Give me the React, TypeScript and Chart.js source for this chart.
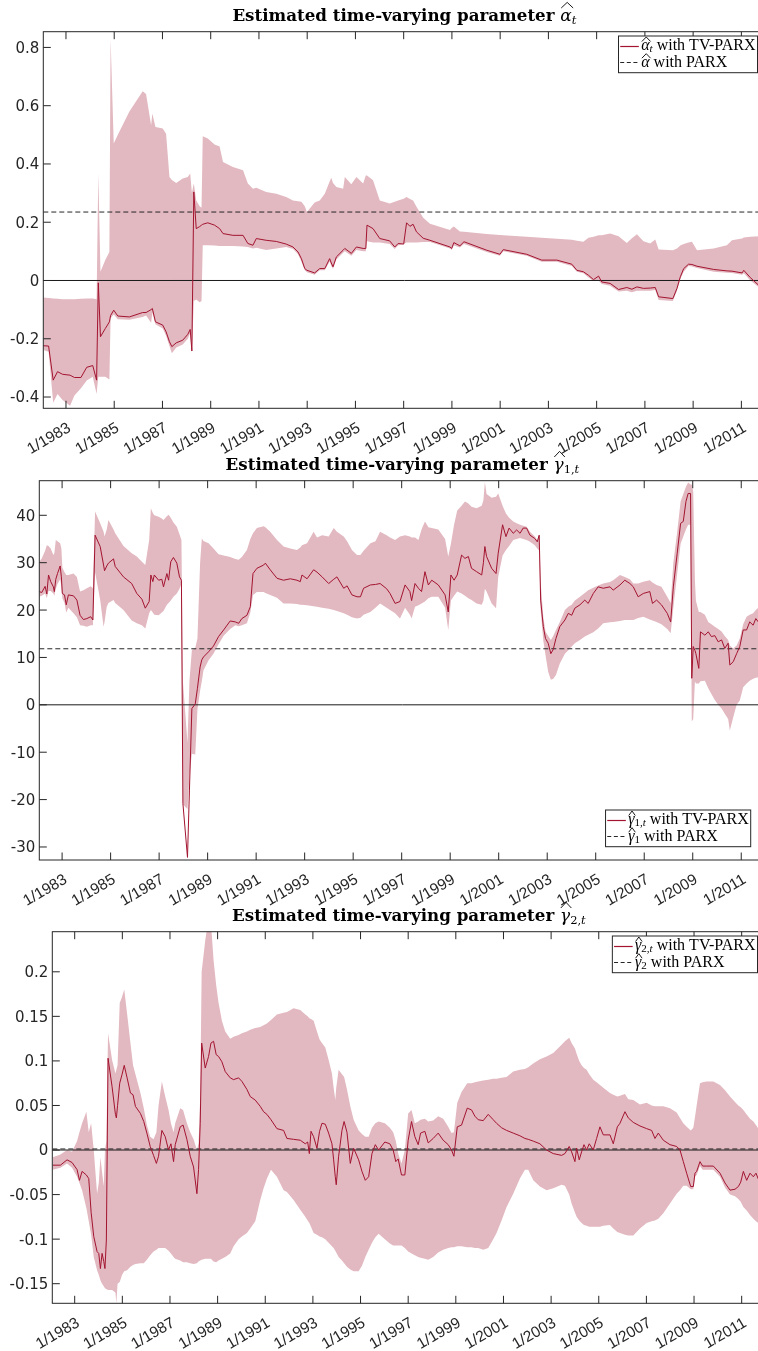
import React, { useEffect, useRef } from 'react';
import { Chart, registerables } from 'chart.js';

Chart.register(...registerables);

// ---------------- shared axis values ----------------
const X_MIN = 1982.06;
const X_MAX = 2012.0;
const X_TICKS = [1983, 1985, 1987, 1989, 1991, 1993, 1995, 1997, 1999, 2001, 2003, 2005, 2007, 2009, 2011];
const X_TICK_LABELS = ['1/1983', '1/1985', '1/1987', '1/1989', '1/1991', '1/1993', '1/1995', '1/1997', '1/1999', '1/2001', '1/2003', '1/2005', '1/2007', '1/2009', '1/2011'];

// ---------------- panel 1 : alpha_t ----------------
const P1_T = [
  1982.06, 1982.28, 1982.47, 1982.65, 1982.86, 1983.17, 1983.35, 1983.62, 1983.86, 1984.11,
  1984.27, 1984.34, 1984.43, 1984.63, 1984.80, 1984.85, 1984.98, 1985.15, 1985.63, 1986.18,
  1986.32, 1986.53, 1986.58, 1986.71, 1987.01, 1987.15, 1987.29, 1987.39, 1987.57, 1987.84,
  1988.05, 1988.15, 1988.22, 1988.30, 1988.40, 1988.54, 1988.62, 1988.67, 1988.88, 1989.16,
  1989.37, 1989.51, 1989.92, 1990.34, 1990.54, 1990.75, 1990.89, 1991.30, 1991.72, 1992.13,
  1992.41, 1992.62, 1992.76, 1992.90, 1992.99, 1993.31, 1993.52, 1993.73, 1993.93, 1994.00,
  1994.07, 1994.21, 1994.49, 1994.56, 1994.83, 1995.04, 1995.32, 1995.43, 1995.48, 1995.73,
  1996.01, 1996.42, 1996.63, 1996.77, 1997.00, 1997.12, 1997.26, 1997.39, 1997.53, 1997.81,
  1998.09, 1998.92, 1998.99, 1999.08, 1999.33, 1999.50, 2000.44, 2000.99, 2001.13, 2002.10,
  2002.72, 2003.35, 2003.97, 2004.18, 2004.45, 2004.66, 2004.87, 2005.08, 2005.21, 2005.56,
  2005.91, 2006.25, 2006.46, 2006.67, 2006.94, 2007.22, 2007.43, 2007.57, 2008.16, 2008.33,
  2008.47, 2008.61, 2008.81, 2008.95, 2009.16, 2009.85, 2010.40, 2010.61, 2011.03, 2011.10,
  2011.37, 2011.75,
];
const P1_LINE = [
  -0.224, -0.225, -0.342, -0.313, -0.322, -0.325, -0.333, -0.333, -0.298, -0.292,
  -0.342, -0.008, -0.193, -0.165, -0.142, -0.12, -0.102, -0.122, -0.125, -0.11,
  -0.11, -0.1, -0.096, -0.142, -0.153, -0.176, -0.21, -0.227, -0.214, -0.205,
  -0.185, -0.168, -0.242, 0.304, 0.178, 0.185, 0.19, 0.193, 0.198, 0.19,
  0.178, 0.161, 0.155, 0.155, 0.127, 0.121, 0.144, 0.138, 0.134, 0.125,
  0.115, 0.098, 0.075, 0.041, 0.035, 0.026, 0.041, 0.041, 0.075, 0.06,
  0.047, 0.081, 0.104, 0.11, 0.093, 0.115, 0.11, 0.11, 0.19, 0.178,
  0.144, 0.136, 0.115, 0.127, 0.125, 0.198, 0.186, 0.193, 0.167, 0.145,
  0.138, 0.115, 0.11, 0.13, 0.119, 0.133, 0.104, 0.09, 0.106, 0.09,
  0.07, 0.07, 0.056, 0.035, 0.03, 0.018, 0.003, 0.015, -0.005, -0.01,
  -0.031, -0.024, -0.03, -0.022, -0.027, -0.026, -0.024, -0.056, -0.062, -0.027,
  0.013, 0.041, 0.056, 0.055, 0.049, 0.038, 0.033, 0.032, 0.026, 0.035,
  0.01, -0.019,
];
const P1_LO = [
  -0.239, -0.245, -0.42, -0.39, -0.41, -0.43, -0.395, -0.37, -0.343, -0.33,
  -0.39, -0.33, -0.33, -0.33, -0.34, -0.13, -0.117, -0.133, -0.135, -0.125,
  -0.12, -0.145, -0.11, -0.15, -0.165, -0.19, -0.225, -0.25, -0.23, -0.22,
  -0.2, -0.18, -0.25, -0.07, -0.065, -0.075, -0.07, 0.121, 0.121, 0.12,
  0.118, 0.118, 0.118, 0.117, 0.115, 0.11, 0.112, 0.105, 0.11, 0.115,
  0.108, 0.09, 0.065, 0.035, 0.028, 0.02, 0.035, 0.035, 0.065, 0.05,
  0.04, 0.072, 0.095, 0.1, 0.085, 0.105, 0.1, 0.1, 0.135, 0.13,
  0.13, 0.125, 0.108, 0.12, 0.125, 0.13, 0.13, 0.13, 0.13, 0.132,
  0.132, 0.11, 0.105, 0.12, 0.113, 0.125, 0.098, 0.085, 0.1, 0.085,
  0.064, 0.064, 0.05, 0.03, 0.025, 0.01, -0.002, 0.0, -0.012, -0.018,
  -0.038, -0.035, -0.04, -0.035, -0.035, -0.035, -0.033, -0.067, -0.07, -0.035,
  0.005, 0.03, 0.05, 0.048, 0.043, 0.03, 0.027, 0.026, 0.02, 0.025,
  0.0, -0.025,
];
const P1_HI = [
  -0.058, -0.06, -0.062, -0.063, -0.064, -0.064, -0.064, -0.063, -0.062, -0.062,
  -0.064, 0.367, 0.03, 0.07, 0.098, 0.83, 0.47, 0.5, 0.58, 0.65,
  0.64, 0.533, 0.573, 0.527, 0.522, 0.504, 0.355, 0.345, 0.335, 0.35,
  0.355, 0.367, 0.3, 0.333, 0.275, 0.255, 0.25, 0.495, 0.487, 0.467,
  0.46, 0.407, 0.39, 0.378, 0.333, 0.315, 0.318, 0.304, 0.298, 0.287,
  0.275, 0.272, 0.27, 0.255, 0.235, 0.268, 0.275, 0.298, 0.34, 0.353,
  0.335, 0.321, 0.315, 0.355, 0.33, 0.355, 0.333, 0.36, 0.36, 0.344,
  0.275, 0.264, 0.27, 0.275, 0.281, 0.287, 0.28, 0.275, 0.253, 0.215,
  0.195, 0.173, 0.18, 0.185, 0.168, 0.167, 0.16, 0.156, 0.155, 0.15,
  0.147, 0.143, 0.14, 0.136, 0.133, 0.147, 0.15, 0.155, 0.155, 0.161,
  0.152, 0.129, 0.145, 0.159, 0.135, 0.127, 0.141, 0.106, 0.104, 0.11,
  0.12, 0.125, 0.13, 0.133, 0.104, 0.11, 0.121, 0.138, 0.144, 0.148,
  0.15, 0.152,
];
const P1_PARX = 0.235;
const P1_Y_MIN = -0.4387;
const P1_Y_MAX = 0.854;
const P1_Y_TICKS = [-0.4, -0.2, 0, 0.2, 0.4, 0.6, 0.8];
const P1_Y_LABELS = ['-0.4', '-0.2', '0', '0.2', '0.4', '0.6', '0.8'];

// ---------------- panel 2 : gamma_1,t ----------------
const P2_T = [
  1982.06, 1982.16, 1982.30, 1982.37, 1982.44, 1982.53, 1982.64, 1982.68, 1982.74, 1982.81,
  1982.92, 1982.97, 1983.01, 1983.10, 1983.17, 1983.26, 1983.47, 1983.61, 1983.74, 1983.88,
  1984.02, 1984.18, 1984.27, 1984.36, 1984.57, 1984.71, 1984.75, 1984.84, 1984.91, 1985.12,
  1985.19, 1985.53, 1985.87, 1986.08, 1986.29, 1986.43, 1986.59, 1986.66, 1986.74, 1986.80,
  1986.98, 1987.11, 1987.18, 1987.32, 1987.39, 1987.48, 1987.59, 1987.73, 1987.84, 1987.92,
  1987.98, 1988.17, 1988.25, 1988.35, 1988.49, 1988.58, 1988.69, 1988.76, 1988.83, 1989.04,
  1989.24, 1989.45, 1989.66, 1989.93, 1990.14, 1990.28, 1990.41, 1990.62, 1990.76, 1990.87,
  1991.03, 1991.31, 1991.38, 1991.58, 1991.86, 1992.13, 1992.41, 1992.68, 1992.82, 1992.89,
  1993.10, 1993.37, 1993.51, 1993.72, 1993.99, 1994.20, 1994.33, 1994.61, 1994.75, 1994.95,
  1995.16, 1995.30, 1995.43, 1995.71, 1995.92, 1996.11, 1996.38, 1996.52, 1996.73, 1996.93,
  1997.14, 1997.34, 1997.41, 1997.55, 1997.69, 1997.82, 1997.96, 1998.10, 1998.24, 1998.51,
  1998.79, 1998.92, 1999.03, 1999.16, 1999.29, 1999.47, 1999.61, 1999.75, 1999.88, 2000.09,
  2000.30, 2000.37, 2000.43, 2000.50, 2000.71, 2000.89, 2000.98, 2001.16, 2001.30, 2001.43,
  2001.60, 2001.74, 2001.88, 2002.01, 2002.15, 2002.29, 2002.49, 2002.59, 2002.67, 2002.73,
  2002.84, 2002.93, 2003.04, 2003.15, 2003.25, 2003.36, 2003.52, 2003.73, 2003.87, 2004.01,
  2004.14, 2004.35, 2004.55, 2004.69, 2004.90, 2005.10, 2005.31, 2005.59, 2005.72, 2006.00,
  2006.20, 2006.41, 2006.55, 2006.75, 2006.96, 2007.23, 2007.34, 2007.51, 2007.71, 2007.95,
  2008.09, 2008.20, 2008.36, 2008.50, 2008.61, 2008.72, 2008.81, 2008.91, 2008.96, 2009.02,
  2009.09, 2009.13, 2009.25, 2009.32, 2009.50, 2009.64, 2009.77, 2009.91, 2010.05, 2010.19,
  2010.32, 2010.46, 2010.53, 2010.67, 2010.81, 2010.94, 2011.08, 2011.22, 2011.35, 2011.49,
  2011.60, 2011.75,
];
const P2_LINE = [
  23.9, 23.7, 25.0, 23.4, 27.4, 26, 24.9, 23.9, 26.5, 27.7,
  29.3, 27, 23.5, 23.2, 21.1, 23.2, 23.0, 22.1, 18.9, 18.0,
  18.2, 18.6, 17.9, 35.8, 33.4, 29.5, 28.3, 29.3, 29.9, 30.8,
  29.2, 27.0, 25.6, 23.5, 22.3, 20.4, 21.8, 27.4, 26.0, 27.4,
  26.3, 26.5, 24.9, 27.7, 26.3, 30.2, 31.1, 29.9, 27.0, 26.3,
  -20.8, -32.2, -18, -0.8, 0.2, 3.5, 8.0, 9.5, 10.1, 11.2,
  12.4, 14.4, 15.8, 17.7, 17.5, 17.2, 18.2, 18.9, 20.7, 27.7,
  28.8, 29.5, 29.9, 28.5, 26.7, 26.3, 26.6, 26.3, 26.0, 27.4,
  26.6, 28.5, 28.0, 27.0, 25.6, 26.5, 27.0, 24.6, 25.1, 23.2,
  22.8, 22.8, 24.6, 25.3, 25.4, 25.6, 24.5, 23.5, 21.4, 21.8,
  25.3, 23.9, 22.0, 25.6, 24.6, 23.9, 28.1, 25.3, 26.3, 25.3,
  23.2, 19.6, 27.4, 26.3, 27.4, 31.6, 30.9, 31.3, 28.8, 28.1,
  27.4, 30, 33.4, 31.3, 28.8, 27.7, 32, 38.0, 35.5, 37.3,
  36.2, 36.9, 36.2, 37.3, 37.3, 35.8, 35.1, 34.4, 35.8, 22.1,
  16.5, 14.0, 13.0, 10.8, 11.7, 14.0, 16.5, 17.9, 19.3, 18.9,
  20.4, 21.1, 22.1, 21.4, 23.5, 24.9, 24.6, 24.9, 24.2, 25.3,
  26.3, 25.6, 24.9, 22.8, 23.5, 23.9, 21.4, 22.1, 21.1, 19.3,
  17.5, 24.9, 32.0, 38.3, 38.7, 42.9, 44.6, 44.6, 5.6, 12.3,
  11.5, 10.8, 7.7, 15.4, 14.7, 15.4, 14.4, 14.6, 13.3, 13.7,
  11.9, 13.0, 8.4, 9.1, 10.8, 12.3, 15.8, 15.8, 17.5, 16.8,
  18.2, 17.2,
];
const P2_LO = [
  22.8, 23.0, 23.5, 22.5, 24.0, 24, 23.5, 23, 24.5, 25.5,
  26.5, 25, 22.5, 21.5, 19.5, 20.5, 19.3, 18.5, 16.8, 16.7,
  16.5, 16.8, 16.8, 28, 22.1, 16.5, 17.5, 20.7, 21.5, 22.1,
  21.5, 20.0, 17.8, 17.2, 16.8, 16.1, 19.3, 20.0, 19.5, 19.0,
  18.9, 19.5, 19.8, 21.1, 21.5, 22.0, 22.8, 23.5, 24.5, 25.5,
  -21, -22, -15, -10.3, -10.5, -1, 3.0, 5, 7.3, 9.4,
  10.8, 12.8, 14.6, 16.0, 16.8, 16.6, 16.8, 17.2, 19.5, 23.2,
  23.8, 23.8, 23.6, 23.2, 22.6, 21.4, 21.4, 21.3, 21.1, 21.1,
  21.0, 20.8, 20.7, 20.5, 20.3, 20.0, 19.8, 19.3, 19.0, 18.5,
  18.2, 18.4, 19.0, 19.6, 20.5, 21.4, 20.5, 20, 19.3, 18.2,
  20.5, 19.0, 18.2, 20.7, 21.0, 21.4, 21.8, 22.5, 22.8, 22.8,
  20.5, 15.8, 22, 23, 23.9, 23.5, 23.0, 22.5, 22.1, 21.4,
  21.1, 22, 24.5, 23.9, 21.4, 20.4, 27, 31.5, 32.7, 33.5,
  34.8, 35.0, 35.2, 35.0, 34.8, 34.4, 33.7, 33.0, 32.5, 20,
  13.5, 10.5, 7.0, 5.3, 5.5, 6.3, 8.7, 10.8, 11.5, 12.3,
  13, 13.7, 14.4, 14.8, 15.3, 16.1, 17.2, 17.4, 17.5, 17.7,
  17.9, 17.9, 17.9, 18.3, 18.6, 18.0, 17.8, 17.5, 17.0, 16.0,
  15.1, 20.5, 27.7, 34, 35.5, 37, 38.0, 38.0, -3.5, -3.0,
  5, 4.5, 4.5, 5.0, 5.1, 3.5, 2.3, 1.0, 0.0, -0.8,
  -1.9, -3.0, -5.4, -2.6, 0.0, 0.9, 3.7, 4.5, 5.1, 5.5,
  5.7, 5.8,
];
const P2_HI = [
  30.2, 30.9, 32.5, 33.7, 33.5, 33, 31.6, 32, 34.8, 34.5,
  34.1, 33, 29, 28, 27.4, 27.4, 27.7, 27.0, 23.9, 24.2,
  24.6, 25.0, 24.6, 40.8, 38.3, 36.5, 35.5, 37, 39, 37.0,
  36.2, 33.5, 32.0, 31.3, 30.2, 29.5, 34.8, 41.5, 40.5, 40.0,
  39.7, 39.3, 39.0, 39.8, 40.1, 39.5, 38.5, 37.6, 36, 34.8,
  5, -8, 5, 11.5, 12, 14, 30, 35.1, 34.6, 34.1,
  33.0, 31.8, 31.5, 31.2, 30.8, 30.6, 31.2, 32.7, 35, 36.2,
  37.3, 37.7, 37.5, 36.5, 34.8, 33.4, 33.0, 32.7, 33.2, 33.7,
  34.1, 36.5, 35.3, 35.8, 35.5, 37.3, 36.5, 35.5, 34.5, 32.7,
  31.6, 31.6, 32.5, 34.1, 34.5, 36.5, 35.8, 35.3, 34.8, 35.5,
  35.8, 35.5, 35.3, 35.3, 34.8, 37, 38.7, 37.5, 37.3, 37.0,
  35.0, 31.3, 34, 38, 41.0, 42, 42.9, 42.5, 41.8, 41.5,
  42.0, 43.2, 47, 44.5, 43.7, 43.9, 44.6, 42, 40.4, 39.5,
  38.7, 38.3, 38.0, 37.8, 37.6, 36.5, 35.5, 34.8, 36.0, 26,
  18.5, 15.5, 14.5, 13.7, 14.5, 15.8, 17.5, 20.0, 20.7, 21.1,
  22, 22.8, 23.6, 24.2, 24.7, 25.2, 25.6, 25.9, 26.3, 27.4,
  27.0, 26.5, 25.6, 25.6, 26.0, 26.3, 25.8, 25.3, 24.9, 22.8,
  21.5, 30, 36.5, 42.9, 44.5, 46.0, 46.9, 46.5, 46.5, 45,
  26.3, 22, 19.6, 19.6, 19.0, 17.5, 17.0, 16.5, 16.0, 15.5,
  14.5, 13.7, 12.5, 11.9, 12.5, 14.0, 17.0, 18.6, 19.0, 19.3,
  20.0, 20.7,
];
const P2_PARX = 11.83;
const P2_Y_MIN = -32.75;
const P2_Y_MAX = 47.3;
const P2_Y_TICKS = [-30, -20, -10, 0, 10, 20, 30, 40];
const P2_Y_LABELS = ['-30', '-20', '-10', '0', '10', '20', '30', '40'];

// ---------------- panel 3 : gamma_2,t ----------------
const P3_T = [
  1982.08, 1982.40, 1982.68, 1982.89, 1983.10, 1983.20, 1983.31, 1983.49, 1983.59, 1983.69,
  1983.80, 1983.94, 1984.01, 1984.08, 1984.15, 1984.22, 1984.27, 1984.33, 1984.40, 1984.57,
  1984.71, 1984.75, 1984.80, 1984.89, 1984.99, 1985.08, 1985.20, 1985.34, 1985.45, 1985.55,
  1985.76, 1985.90, 1986.03, 1986.17, 1986.31, 1986.43, 1986.52, 1986.66, 1986.80, 1986.94,
  1987.04, 1987.15, 1987.22, 1987.43, 1987.55, 1987.71, 1987.85, 1987.99, 1988.13, 1988.20,
  1988.27, 1988.33, 1988.48, 1988.62, 1988.72, 1988.83, 1988.94, 1989.04, 1989.18, 1989.32,
  1989.53, 1989.67, 1989.88, 1990.02, 1990.23, 1990.37, 1990.58, 1990.79, 1990.93, 1991.07,
  1991.24, 1991.49, 1991.77, 1991.91, 1992.19, 1992.47, 1992.68, 1992.78, 1992.85, 1992.92,
  1993.03, 1993.17, 1993.28, 1993.38, 1993.52, 1993.66, 1993.80, 1993.87, 1993.94, 1993.98,
  1994.08, 1994.22, 1994.31, 1994.43, 1994.57, 1994.71, 1994.92, 1995.06, 1995.20, 1995.34,
  1995.48, 1995.62, 1995.76, 1996.02, 1996.23, 1996.37, 1996.48, 1996.58, 1996.72, 1996.86,
  1997.00, 1997.14, 1997.28, 1997.42, 1997.52, 1997.70, 1997.84, 1998.05, 1998.26, 1998.47,
  1998.68, 1998.82, 1998.92, 1999.06, 1999.24, 1999.48, 1999.66, 1999.80, 1999.94, 2000.15,
  2000.36, 2000.57, 2000.71, 2000.92, 2001.13, 2001.41, 2001.69, 2001.90, 2002.04, 2002.25,
  2002.53, 2002.81, 2003.09, 2003.44, 2003.58, 2003.76, 2003.86, 2004.00, 2004.07, 2004.18,
  2004.28, 2004.38, 2004.49, 2004.60, 2004.77, 2004.91, 2005.05, 2005.19, 2005.47, 2005.61,
  2005.78, 2005.89, 2006.10, 2006.24, 2006.45, 2006.73, 2007.01, 2007.22, 2007.36, 2007.50,
  2007.71, 2007.99, 2008.27, 2008.41, 2008.55, 2008.69, 2008.86, 2008.97, 2009.04, 2009.11,
  2009.25, 2009.36, 2009.53, 2009.81, 2010.09, 2010.30, 2010.51, 2010.72, 2010.86, 2010.96,
  2011.07, 2011.21, 2011.35, 2011.49, 2011.60, 2011.75,
];
const P3_LINE = [
  -0.017, -0.017, -0.011, -0.014, -0.022, -0.034, -0.024, -0.028, -0.032, -0.07,
  -0.097, -0.114, -0.116, -0.133, -0.116, -0.125, -0.133, -0.101, 0.103, 0.071,
  0.04, 0.036, 0.05, 0.075, 0.085, 0.095, 0.081, 0.064, 0.062, 0.049,
  0.041, 0.032, 0.019, 0.004, -0.006, -0.015, -0.007, 0.022, 0.015, 0.0,
  0.007, -0.013, 0.006, 0.026, 0.028, 0.012, -0.007, -0.019, -0.049, -0.022,
  0.03, 0.12, 0.092, 0.105, 0.12, 0.122, 0.107, 0.105, 0.099, 0.088,
  0.081, 0.079, 0.081, 0.077, 0.068, 0.06, 0.056, 0.049, 0.043, 0.04,
  0.034, 0.024, 0.022, 0.013, 0.012, 0.011, 0.007, 0.009, -0.004, 0.021,
  0.015, 0.002, 0.021, 0.03, 0.029, 0.019, 0.007, -0.011, -0.03, -0.039,
  -0.007, 0.022, 0.032, 0.02, -0.015, 0.002, -0.011, -0.024, -0.034, -0.03,
  -0.004, 0.006, 0.0, 0.009, 0.007, 0.0, -0.013, -0.01, -0.028, -0.028,
  0.011, 0.032, 0.015, 0.006, 0.019, 0.021, 0.008, 0.013, 0.019, 0.011,
  0.006, 0.0, -0.007, 0.026, 0.028, 0.047, 0.045, 0.038, 0.034, 0.033,
  0.04, 0.034, 0.03, 0.025, 0.022, 0.019, 0.016, 0.013, 0.012, 0.01,
  0.007, 0.0, -0.004, -0.006, -0.004, 0.004, -0.002, -0.013, 0.002, -0.011,
  -0.002, 0.006, 0.0, 0.007, 0.0, 0.013, 0.026, 0.017, 0.017, 0.007,
  0.026, 0.03, 0.043, 0.036, 0.031, 0.027, 0.024, 0.022, 0.013, 0.019,
  0.011, 0.006, 0.004, 0.0, -0.013, -0.026, -0.041, -0.041, -0.026, -0.024,
  -0.013, -0.018, -0.018, -0.018, -0.026, -0.037, -0.045, -0.044, -0.041, -0.036,
  -0.024, -0.034, -0.026, -0.03, -0.026, -0.036,
];
const P3_LO = [
  -0.022, -0.02, -0.015, -0.02, -0.03, -0.037, -0.045, -0.065, -0.08, -0.095,
  -0.12, -0.135, -0.14, -0.146, -0.15, -0.153, -0.155, -0.156, -0.157, -0.157,
  -0.16, -0.172, -0.15, -0.148, -0.14, -0.136, -0.135, -0.131, -0.129, -0.128,
  -0.127, -0.127, -0.123, -0.118, -0.114, -0.112, -0.11, -0.11, -0.11, -0.113,
  -0.116, -0.12, -0.122, -0.124, -0.126, -0.126, -0.127, -0.128, -0.127, -0.125,
  -0.124, -0.123, -0.122, -0.122, -0.122, -0.125, -0.126, -0.124, -0.122, -0.12,
  -0.116, -0.108, -0.1, -0.097, -0.093, -0.088, -0.08, -0.056, -0.043, -0.032,
  -0.022, -0.03, -0.045, -0.047, -0.056, -0.067, -0.075, -0.079, -0.082, -0.086,
  -0.093, -0.095, -0.097, -0.098, -0.1, -0.104, -0.108, -0.11, -0.113, -0.115,
  -0.12, -0.124, -0.127, -0.131, -0.134, -0.136, -0.136, -0.13, -0.12, -0.112,
  -0.104, -0.098, -0.094, -0.1, -0.105, -0.107, -0.107, -0.107, -0.107, -0.11,
  -0.114, -0.116, -0.118, -0.12, -0.121, -0.122, -0.123, -0.12, -0.115, -0.112,
  -0.11, -0.109, -0.109, -0.108, -0.108, -0.109, -0.109, -0.11, -0.11, -0.112,
  -0.11, -0.1, -0.093, -0.079, -0.064, -0.049, -0.032, -0.022, -0.022, -0.034,
  -0.041, -0.045, -0.043, -0.039, -0.04, -0.05, -0.06, -0.07, -0.075, -0.079,
  -0.082, -0.084, -0.085, -0.086, -0.086, -0.086, -0.086, -0.085, -0.084, -0.088,
  -0.092, -0.093, -0.095, -0.096, -0.096, -0.088, -0.082, -0.08, -0.079, -0.077,
  -0.071, -0.06, -0.049, -0.045, -0.04, -0.04, -0.044, -0.044, -0.03, -0.028,
  -0.018, -0.022, -0.022, -0.022, -0.03, -0.042, -0.05, -0.052, -0.055, -0.058,
  -0.064, -0.068, -0.073, -0.077, -0.08, -0.083,
];
const P3_HI = [
  -0.008, -0.005, 0.0, -0.002, 0.01, 0.02, 0.03, 0.043, 0.02, 0.03,
  0.0, -0.049, -0.037, -0.008, -0.025, -0.041, 0.0, 0.01, 0.131, 0.101,
  0.086, 0.09, 0.095, 0.165, 0.172, 0.18, 0.153, 0.12, 0.095, 0.085,
  0.064, 0.047, 0.028, 0.015, 0.012, 0.02, 0.05, 0.077, 0.06, 0.045,
  0.03, 0.02, 0.03, 0.047, 0.045, 0.03, 0.02, 0.012, 0.0, 0.008,
  0.06, 0.2, 0.235, 0.26, 0.255, 0.213, 0.185, 0.165, 0.145, 0.133,
  0.125, 0.127, 0.129, 0.131, 0.133, 0.135, 0.137, 0.138, 0.14, 0.142,
  0.146, 0.152, 0.154, 0.155, 0.159, 0.157, 0.152, 0.15, 0.148, 0.147,
  0.145, 0.133, 0.124, 0.12, 0.115, 0.101, 0.086, 0.07, 0.056, 0.07,
  0.09, 0.085, 0.082, 0.068, 0.049, 0.034, 0.022, 0.018, 0.015, 0.015,
  0.025, 0.03, 0.032, 0.03, 0.025, 0.02, 0.01, -0.004, -0.015, 0.0,
  0.041, 0.045, 0.03, 0.032, 0.034, 0.035, 0.032, 0.033, 0.038, 0.035,
  0.026, 0.019, 0.02, 0.053, 0.065, 0.075, 0.075, 0.076, 0.077, 0.078,
  0.079, 0.08, 0.08, 0.081, 0.082, 0.088, 0.09, 0.091, 0.093, 0.097,
  0.102, 0.105, 0.109, 0.118, 0.122, 0.126, 0.12, 0.114, 0.108, 0.1,
  0.095, 0.092, 0.09, 0.085, 0.079, 0.076, 0.073, 0.07, 0.064, 0.062,
  0.06, 0.061, 0.063, 0.057, 0.056, 0.051, 0.053, 0.05, 0.049, 0.049,
  0.049, 0.047, 0.042, 0.036, 0.03, 0.026, 0.022, 0.025, 0.037, 0.05,
  0.075, 0.076, 0.077, 0.077, 0.073, 0.067, 0.06, 0.054, 0.05, 0.048,
  0.045, 0.04, 0.035, 0.032, 0.028, 0.022,
];
const P3_PARX = 0.0012;
const P3_Y_MIN = -0.172;
const P3_Y_MAX = 0.245;
const P3_Y_TICKS = [-0.15, -0.1, -0.05, 0, 0.05, 0.1, 0.15, 0.2];
const P3_Y_LABELS = ['-0.15', '-0.1', '-0.05', '0', '0.05', '0.1', '0.15', '0.2'];

// ---------------- styles ----------------
const RED = '#A2142F';
const BAND = 'rgb(226,184,193)';
const AXIS = '#262626';
const DASH = '#262626';
const TICK = 7.5;
const Y_FONT = 15;
const X_FONT = 15.5;
const X_FONT_FAMILY = '"Liberation Sans"';
const CANVAS_W = 770;

type Seg = { t: string; f: string; dy?: number; hat?: [number, number] };

const TITLE_MAIN = 'bold 16.7px "DejaVu Serif"';
const TITLE_MATH = 'italic 17px "DejaVu Serif"';
const TITLE_SUB = '11.5px "DejaVu Serif"';
const TITLE_SUB_I = 'italic 11.5px "DejaVu Serif"';
const LEG = '16px "Liberation Serif"';
const LEG_I = 'italic 16px "Liberation Serif"';
const LEG_SUB = '11px "Liberation Serif"';
const LEG_SUB_I = 'italic 11px "Liberation Serif"';
const TITLE_HAT: [number, number] = [13.2, 18.8];
const LEG_HAT: [number, number] = [8.3, 12.8];

function titleSegs(sym: string, sub: Seg[]): Seg[] {
  return [
    { t: 'Estimated time-varying parameter ', f: TITLE_MAIN },
    { t: sym, f: TITLE_MATH, hat: TITLE_HAT },
    ...sub,
  ];
}

function segsWidth(ctx: CanvasRenderingContext2D, segs: Seg[]) {
  let w = 0;
  for (const s of segs) {
    ctx.font = s.f;
    w += ctx.measureText(s.t).width;
  }
  return w;
}

function drawSegs(ctx: CanvasRenderingContext2D, segs: Seg[], x: number, y: number) {
  let cx = x;
  ctx.textAlign = 'left';
  ctx.textBaseline = 'alphabetic';
  for (const s of segs) {
    ctx.font = s.f;
    const w = ctx.measureText(s.t).width;
    ctx.fillText(s.t, cx, y + (s.dy || 0));
    if (s.hat) {
      const [b, p] = s.hat;
      ctx.save();
      ctx.lineWidth = 0.9;
      ctx.setLineDash([]);
      ctx.beginPath();
      ctx.moveTo(cx + w * 0.08, y - b);
      ctx.lineTo(cx + w * 0.6, y - p);
      ctx.lineTo(cx + w * 1.12, y - b);
      ctx.stroke();
      ctx.restore();
    }
    cx += w;
  }
}

type PanelSpec = {
  top: number;
  height: number;
  padLeft: number;
  padTop: number;
  padBottom: number;
  yMin: number;
  yMax: number;
  yTicks: number[];
  yLabels: string[];
  T: number[];
  line: number[];
  lo: number[];
  hi: number[];
  parx: number;
  title: Seg[];
  legend: [Seg[], Seg[]];
  legendPos: 'ne' | 'se';
};

const PANELS: PanelSpec[] = [
  {
    top: 0, height: 470, padLeft: 43.3, padTop: 31.7, padBottom: 470 - 408.3,
    yMin: P1_Y_MIN, yMax: P1_Y_MAX, yTicks: P1_Y_TICKS, yLabels: P1_Y_LABELS,
    T: P1_T, line: P1_LINE, lo: P1_LO, hi: P1_HI, parx: P1_PARX,
    title: titleSegs('α', [{ t: 't', f: TITLE_SUB_I, dy: 3 }]),
    legend: [
      [{ t: 'α', f: LEG_I, hat: LEG_HAT }, { t: 't', f: LEG_SUB_I, dy: 2.5 }, { t: ' with TV-PARX', f: LEG }],
      [{ t: 'α', f: LEG_I, hat: LEG_HAT }, { t: ' with PARX', f: LEG }],
    ],
    legendPos: 'ne',
  },
  {
    top: 440, height: 475, padLeft: 39.3, padTop: 40.7, padBottom: 475 - 420,
    yMin: P2_Y_MIN, yMax: P2_Y_MAX, yTicks: P2_Y_TICKS, yLabels: P2_Y_LABELS,
    T: P2_T, line: P2_LINE, lo: P2_LO, hi: P2_HI, parx: P2_PARX,
    title: titleSegs('γ', [
      { t: '1', f: TITLE_SUB, dy: 3 }, { t: ',', f: TITLE_SUB, dy: 3 }, { t: 't', f: TITLE_SUB_I, dy: 3 },
    ]),
    legend: [
      [{ t: 'γ', f: LEG_I, hat: LEG_HAT }, { t: '1', f: LEG_SUB, dy: 2.5 }, { t: ',', f: LEG_SUB, dy: 2.5 }, { t: 't', f: LEG_SUB_I, dy: 2.5 }, { t: ' with TV-PARX', f: LEG }],
      [{ t: 'γ', f: LEG_I, hat: LEG_HAT }, { t: '1', f: LEG_SUB, dy: 2.5 }, { t: ' with PARX', f: LEG }],
    ],
    legendPos: 'se',
  },
  {
    top: 890, height: 461, padLeft: 52.3, padTop: 41.7, padBottom: 461 - 413.3,
    yMin: P3_Y_MIN, yMax: P3_Y_MAX, yTicks: P3_Y_TICKS, yLabels: P3_Y_LABELS,
    T: P3_T, line: P3_LINE, lo: P3_LO, hi: P3_HI, parx: P3_PARX,
    title: titleSegs('γ', [
      { t: '2', f: TITLE_SUB, dy: 3 }, { t: ',', f: TITLE_SUB, dy: 3 }, { t: 't', f: TITLE_SUB_I, dy: 3 },
    ]),
    legend: [
      [{ t: 'γ', f: LEG_I, hat: LEG_HAT }, { t: '2', f: LEG_SUB, dy: 2.5 }, { t: ',', f: LEG_SUB, dy: 2.5 }, { t: 't', f: LEG_SUB_I, dy: 2.5 }, { t: ' with TV-PARX', f: LEG }],
      [{ t: 'γ', f: LEG_I, hat: LEG_HAT }, { t: '2', f: LEG_SUB, dy: 2.5 }, { t: ' with PARX', f: LEG }],
    ],
    legendPos: 'ne',
  },
];

function decorPlugin(p: PanelSpec) {
  return {
    id: 'decor',
    afterDraw(chart: any) {
      const ctx = chart.ctx as CanvasRenderingContext2D;
      const ca = chart.chartArea;
      const xs = chart.scales.x;
      const ys = chart.scales.y;
      ctx.save();
      ctx.setLineDash([]);
      ctx.strokeStyle = AXIS;
      ctx.lineWidth = 1;
      // inward ticks
      ctx.beginPath();
      for (const v of X_TICKS) {
        const px = xs.getPixelForValue(v);
        ctx.moveTo(px, ca.bottom);
        ctx.lineTo(px, ca.bottom - TICK);
        ctx.moveTo(px, ca.top);
        ctx.lineTo(px, ca.top + TICK);
      }
      for (const v of p.yTicks) {
        const py = ys.getPixelForValue(v);
        ctx.moveTo(ca.left, py);
        ctx.lineTo(ca.left + TICK, py);
        ctx.moveTo(ca.right, py);
        ctx.lineTo(ca.right - TICK, py);
      }
      ctx.stroke();
      ctx.strokeRect(ca.left, ca.top, ca.right - ca.left, ca.bottom - ca.top);

      // y tick labels
      ctx.fillStyle = AXIS;
      ctx.font = `${Y_FONT}px "DejaVu Sans"`;
      ctx.textAlign = 'right';
      ctx.textBaseline = 'alphabetic';
      p.yTicks.forEach((v, i) => {
        ctx.fillText(p.yLabels[i], ca.left - 4, ys.getPixelForValue(v) + (Y_FONT * 0.729) / 2);
      });

      // x tick labels (rotated)
      ctx.font = `${X_FONT}px ${X_FONT_FAMILY}`;
      X_TICKS.forEach((v, i) => {
        const px = xs.getPixelForValue(v);
        ctx.save();
        ctx.translate(px + 3, ca.bottom + 17.5);
        ctx.rotate(-Math.PI / 6);
        ctx.textAlign = 'right';
        ctx.fillText(X_TICK_LABELS[i], 0, (X_FONT * 0.716) / 2);
        ctx.restore();
      });

      // title
      ctx.fillStyle = '#000';
      ctx.strokeStyle = '#000';
      const tw = segsWidth(ctx, p.title);
      drawSegs(ctx, p.title, (ca.left + ca.right) / 2 - tw / 2, ca.top - 10.5);

      // legend
      const textW = Math.max(segsWidth(ctx, p.legend[0]), segsWidth(ctx, p.legend[1]));
      const boxW = 22.7 + textW + 2;
      const boxH = 36.7;
      let left: number;
      let top: number;
      if (p.legendPos === 'ne') {
        left = ca.right - 8 - boxW;
        top = ca.top + 4.3;
      } else {
        left = ca.right - 14.8 - boxW;
        top = ca.bottom - 13.3 - boxH;
      }
      ctx.fillStyle = '#fff';
      ctx.fillRect(left, top, boxW, boxH);
      ctx.strokeStyle = AXIS;
      ctx.lineWidth = 1;
      ctx.strokeRect(left, top, boxW, boxH);
      const b1 = top + 13.8;
      const b2 = top + 30.5;
      ctx.strokeStyle = RED;
      ctx.lineWidth = 1.2;
      ctx.beginPath();
      ctx.moveTo(left + 1.7, Math.round(b1 - 4.3) + 0.5);
      ctx.lineTo(left + 20.3, Math.round(b1 - 4.3) + 0.5);
      ctx.stroke();
      ctx.lineWidth = 1;
      ctx.strokeStyle = DASH;
      ctx.setLineDash([4, 2.6]);
      ctx.beginPath();
      ctx.moveTo(left + 1.7, Math.round(b2 - 4.3) + 0.5);
      ctx.lineTo(left + 20.3, Math.round(b2 - 4.3) + 0.5);
      ctx.stroke();
      ctx.setLineDash([]);
      ctx.fillStyle = '#000';
      ctx.strokeStyle = '#000';
      drawSegs(ctx, p.legend[0], left + 22.7, b1);
      drawSegs(ctx, p.legend[1], left + 22.7, b2);
      ctx.restore();
    },
  };
}

function Panel({ spec }: { spec: PanelSpec }) {
  const ref = useRef<HTMLCanvasElement | null>(null);
  useEffect(() => {
    if (!ref.current) return;
    const pts = (vals: number[]) => spec.T.map((t, i) => ({ x: t, y: vals[i] }));
    const chart = new Chart(ref.current, {
      type: 'line',
      data: {
        datasets: [
          {
            data: pts(spec.lo),
            borderWidth: 0,
            borderColor: 'rgba(0,0,0,0)',
            pointRadius: 0,
            fill: false,
            order: 10,
          },
          {
            data: pts(spec.hi),
            borderWidth: 0,
            borderColor: 'rgba(0,0,0,0)',
            backgroundColor: BAND,
            pointRadius: 0,
            fill: '-1',
            order: 9,
          },
          {
            data: [{ x: X_MIN, y: 0 }, { x: X_MAX, y: 0 }],
            borderColor: '#1a1a1a',
            borderWidth: 1,
            pointRadius: 0,
            order: 3,
          },
          {
            data: [{ x: X_MIN, y: spec.parx }, { x: X_MAX, y: spec.parx }],
            borderColor: DASH,
            borderWidth: 1,
            borderDash: [5, 3],
            pointRadius: 0,
            order: 2,
          },
          {
            data: pts(spec.line),
            borderColor: RED,
            borderWidth: 1,
            borderJoinStyle: 'round',
            pointRadius: 0,
            order: 1,
          },
        ] as any,
      },
      options: {
        responsive: false,
        animation: false,
        devicePixelRatio: 1,
        events: [],
        layout: {
          padding: { left: spec.padLeft, top: spec.padTop, right: CANVAS_W - 765.5, bottom: spec.padBottom },
        },
        scales: {
          x: { type: 'linear', display: false, min: X_MIN, max: X_MAX },
          y: { type: 'linear', display: false, min: spec.yMin, max: spec.yMax },
        },
        plugins: {
          legend: { display: false },
          tooltip: { enabled: false },
          title: { display: false },
        },
      } as any,
      plugins: [decorPlugin(spec)],
    });
    return () => chart.destroy();
  }, [spec]);
  return (
    <canvas
      ref={ref}
      width={CANVAS_W}
      height={spec.height}
      style={{ position: 'absolute', left: 0, top: spec.top, width: CANVAS_W, height: spec.height }}
    />
  );
}

export default function App() {
  return (
    <div
      style={{
        position: 'absolute',
        left: 0,
        top: 0,
        width: 758,
        height: 1351,
        overflow: 'hidden',
        background: '#fff',
      }}
    >
      {PANELS.map((p, i) => (
        <Panel key={i} spec={p} />
      ))}
    </div>
  );
}
